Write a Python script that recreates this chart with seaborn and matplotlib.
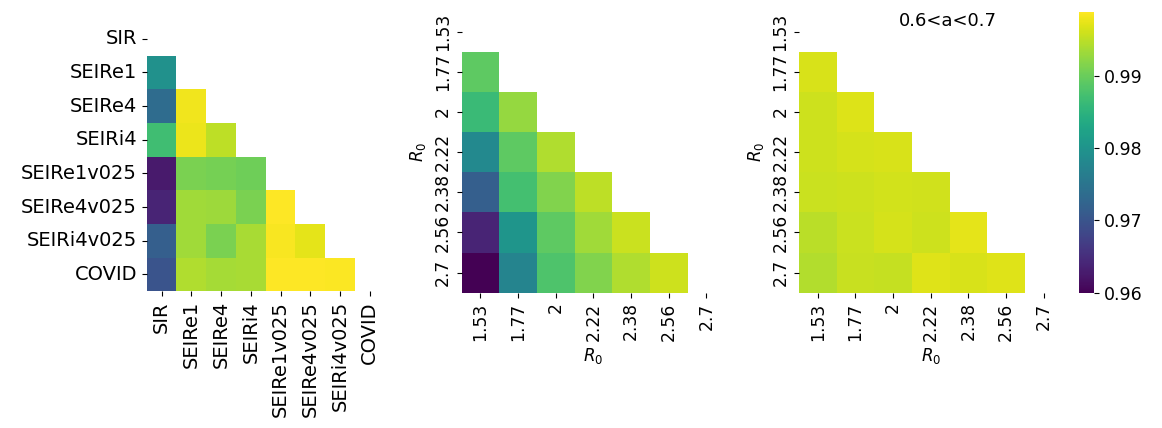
import numpy as np
import pandas as pd
import seaborn as sns
import matplotlib.pyplot as plt

# model comparison (lower triangle, row i has i values)
models = ["SIR", "SEIRe1", "SEIRe4", "SEIRi4", "SEIRe1v025", "SEIRe4v025", "SEIRi4v025", "COVID"]
models_rows = [
    [],
    [0.9794],
    [0.9736, 0.9980],
    [0.9870, 0.9977, 0.9950],
    [0.9626, 0.9910, 0.9907, 0.9903],
    [0.9638, 0.9934, 0.9932, 0.9910, 0.9989],
    [0.9716, 0.9934, 0.9910, 0.9938, 0.9985, 0.9973],
    [0.9700, 0.9942, 0.9936, 0.9938, 0.9989, 0.9988, 0.9987],
]

# R0 comparison, all a
r0 = ["1.53", "1.77", "2", "2.22", "2.38", "2.56", "2.7"]
r0_rows_all = [
    [],
    [0.9892],
    [0.9864, 0.9927],
    [0.9782, 0.9892, 0.9942],
    [0.9716, 0.9872, 0.9915, 0.9950],
    [0.9638, 0.9802, 0.9892, 0.9934, 0.9958],
    [0.9599, 0.9775, 0.9880, 0.9915, 0.9942, 0.9960],
]

# R0 comparison, 0.6<a<0.7
r0_rows_a = [
    [],
    [0.9966],
    [0.9960, 0.9968],
    [0.9960, 0.9964, 0.9966],
    [0.9958, 0.9960, 0.9962, 0.9961],
    [0.9948, 0.9958, 0.9964, 0.9960, 0.9973],
    [0.9944, 0.9956, 0.9954, 0.9970, 0.9966, 0.9970],
]

vmin, vmax = 0.9599, 0.9989


def to_frame(rows, labels):
    n = len(labels)
    m = np.full((n, n), np.nan)
    for i, r in enumerate(rows):
        m[i, :len(r)] = r
    return pd.DataFrame(m, index=labels, columns=labels)


fig = plt.figure(figsize=(11.62, 4.28), dpi=100)
ax1 = fig.add_axes([0.1262, 0.3194, 0.2049, 0.6292])
ax2 = fig.add_axes([0.3973, 0.3161, 0.2269, 0.657])
ax3 = fig.add_axes([0.6876, 0.3161, 0.2269, 0.657])
cax = fig.add_axes([0.9288, 0.3147, 0.0124, 0.658])

df1 = to_frame(models_rows, models)
mask1 = np.triu(np.ones(df1.shape, dtype=bool))
sns.heatmap(df1, mask=mask1, cmap="viridis", vmin=vmin, vmax=vmax, cbar=False, ax=ax1)
ax1.set_yticklabels(models, rotation=0, fontsize=14)
ax1.set_xticklabels(models, rotation=90, fontsize=14)

for ax, rows, cb in [(ax2, r0_rows_all, False), (ax3, r0_rows_a, True)]:
    df = to_frame(rows, r0)
    mask = np.triu(np.ones(df.shape, dtype=bool))
    sns.heatmap(df, mask=mask, cmap="viridis", vmin=vmin, vmax=vmax,
                cbar=cb, cbar_ax=cax if cb else None, ax=ax)
    ax.set_xticklabels(r0, rotation=90, fontsize=12.3)
    ax.set_yticklabels(r0, rotation=90, va="center", fontsize=12.3)
    ax.set_xlabel("$R_0$", fontsize=12)
    ax.set_ylabel("$R_0$", fontsize=12)

ax3.text(0.565, 0.967, "0.6<a<0.7", transform=ax3.transAxes,
         ha="center", va="center", fontsize=13)

cax.set_yticks([0.96, 0.97, 0.98, 0.99])
cax.set_yticklabels(["0.96", "0.97", "0.98", "0.99"])
cax.tick_params(labelsize=12.5)

fig.savefig("out.png", dpi=100)
